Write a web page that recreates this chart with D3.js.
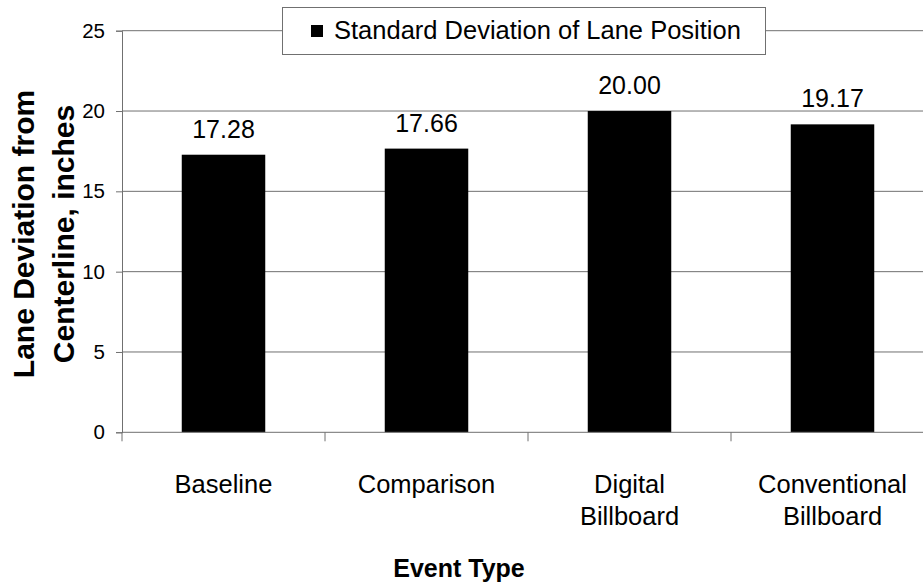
<!DOCTYPE html>
<html><head><meta charset="utf-8">
<script src="https://cdn.jsdelivr.net/npm/d3@7"></script>
<style>body{margin:0;background:#fff}svg{display:block;font-family:"Liberation Sans",Arial,sans-serif}</style>
</head><body><svg id="c" width="923" height="584"></svg>
<script>
const categories = [["Baseline"],["Comparison"],["Digital","Billboard"],["Conventional","Billboard"]];
const values = [17.28, 17.66, 20.00, 19.17];
const valueLabels = ["17.28","17.66","20.00","19.17"];
const yTicks = [0,5,10,15,20,25];
const seriesName = "Standard Deviation of Lane Position";
const yTitle = ["Lane Deviation from","Centerline, inches"];
const xTitle = "Event Type";

const svg = d3.select("#c");
const x0 = 122, yBottom = 432.3, yTop = 30.7;
const x = d3.scaleBand().domain(d3.range(categories.length)).range([x0, x0 + 203*4]).paddingInner(0).paddingOuter(0);
const y = d3.scaleLinear().domain([0,25]).range([yBottom, yTop]);
const barW = 83.5;

// gridlines
svg.append("g").selectAll("line").data(yTicks.filter(d=>d>0)).join("line")
  .attr("x1", x0).attr("x2", 923).attr("y1", d=>y(d)).attr("y2", d=>y(d))
  .attr("stroke", "#707070").attr("stroke-width", 1);

// bars
svg.append("g").selectAll("rect").data(values).join("rect")
  .attr("x", (d,i)=>x(i)+x.bandwidth()/2-barW/2).attr("width", barW)
  .attr("y", d=>y(d)).attr("height", d=>yBottom-y(d)).attr("fill", "#000");

// value labels
svg.append("g").selectAll("text").data(values).join("text")
  .attr("x", (d,i)=>x(i)+x.bandwidth()/2).attr("y", d=>y(d)-17)
  .attr("text-anchor","middle").attr("font-size", 25).attr("fill","#000")
  .text((d,i)=>valueLabels[i]);

// y axis
const yAxis = d3.axisLeft(y).tickValues(yTicks).tickSize(6).tickPadding(11).tickFormat(d3.format("d"));
const gy = svg.append("g").attr("transform", `translate(${x0},0)`).call(yAxis);
gy.select(".domain").attr("stroke","#707070");
gy.selectAll(".tick line").attr("stroke","#707070");
gy.selectAll(".tick text").attr("font-size", 20.5).attr("fill","#000").attr("font-family","Liberation Sans, Arial, sans-serif");

// x axis
const xEdges = d3.range(categories.length+1).map(i=>x0 + i*x.bandwidth());
svg.append("line").attr("x1", x0).attr("x2", 923).attr("y1", yBottom).attr("y2", yBottom).attr("stroke","#707070");
svg.append("g").selectAll("line").data(xEdges).join("line")
  .attr("x1", d=>d).attr("x2", d=>d).attr("y1", yBottom).attr("y2", yBottom+9).attr("stroke","#707070");

// category labels
const cat = svg.append("g").selectAll("text").data(categories).join("text")
  .attr("text-anchor","middle").attr("font-size", 25.5).attr("fill","#000");
cat.each(function(lines,i){
  d3.select(this).selectAll("tspan").data(lines).join("tspan")
    .attr("x", x(i)+x.bandwidth()/2).attr("y", (l,j)=>493 + j*32).text(l=>l);
});

// x title
svg.append("text").attr("x", 459).attr("y", 577).attr("text-anchor","middle")
  .attr("font-size", 25).attr("font-weight","bold").text(xTitle);

// y title
const yt = svg.append("text").attr("transform","translate(0,234) rotate(-90)")
  .attr("text-anchor","middle").attr("font-size", 30).attr("font-weight","bold");
yt.selectAll("tspan").data(yTitle).join("tspan").attr("x",0).attr("y",(d,i)=>34 + i*40).text(d=>d);

// legend
const lg = svg.append("g");
lg.append("rect").attr("x", 282.5).attr("y", 7.5).attr("width", 483).attr("height", 47)
  .attr("fill","#fff").attr("stroke","#707070");
lg.append("rect").attr("x", 311).attr("y", 25).attr("width", 12).attr("height", 12).attr("fill","#000");
lg.append("text").attr("x", 334).attr("y", 39).attr("font-size", 25.5).text(seriesName);
</script></body></html>
